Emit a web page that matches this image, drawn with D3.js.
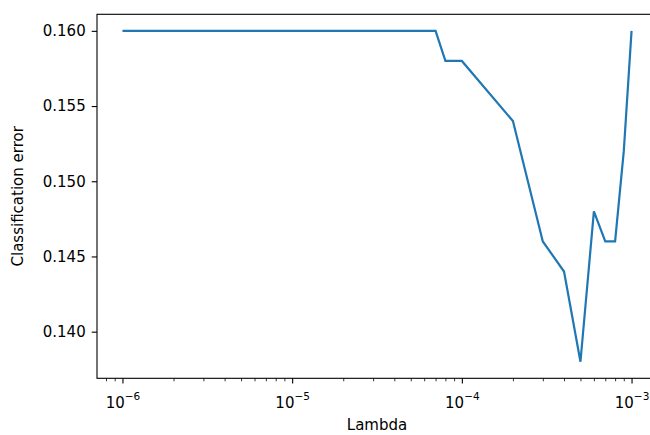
<!DOCTYPE html>
<html>
<head>
<meta charset="utf-8">
<script src="https://cdn.jsdelivr.net/npm/d3@7"></script>
<style>
  body { margin: 0; background: #fff; }
  text { font-family: "DejaVu Sans", sans-serif; fill: #000; }
</style>
</head>
<body>
<svg id="chart"></svg>
<script>
// regularisation strengths tried
const lambdas = [
  1e-6, 2e-6, 3e-6, 4e-6, 5e-6, 6e-6, 7e-6, 8e-6, 9e-6,
  1e-5, 2e-5, 3e-5, 4e-5, 5e-5, 6e-5, 7e-5, 8e-5, 9e-5,
  1e-4, 2e-4, 3e-4, 4e-4, 5e-4, 6e-4, 7e-4, 8e-4, 9e-4,
  1e-3
];
// classification error for each lambda
const errors = [
  0.160, 0.160, 0.160, 0.160, 0.160, 0.160, 0.160, 0.160, 0.160,
  0.160, 0.160, 0.160, 0.160, 0.160, 0.160, 0.160, 0.158, 0.158,
  0.158, 0.154, 0.146, 0.144, 0.138, 0.148, 0.146, 0.146, 0.152,
  0.160
];
const xTicks = [1e-6, 1e-5, 1e-4, 1e-3];
const xTickExps = ["\u22126", "\u22125", "\u22124", "\u22123"];
const yTicks = [0.140, 0.145, 0.150, 0.155, 0.160];

const width = 650, height = 435;
const margin = {top: 14.3, left: 97, w: 560, h: 364};

const svg = d3.select("#chart").attr("width", width).attr("height", height);
const g = svg.append("g").attr("transform", `translate(${margin.left},${margin.top})`);

// matplotlib-like 5% margins (in log space for x)
const lx = d3.extent(lambdas).map(Math.log10);
const padX = (lx[1] - lx[0]) * 0.05;
const x = d3.scaleLog()
  .domain([Math.pow(10, lx[0] - padX), Math.pow(10, lx[1] + padX)])
  .range([0, margin.w]);

const ey = d3.extent(errors);
const padY = (ey[1] - ey[0]) * 0.05;
const y = d3.scaleLinear()
  .domain([ey[0] - padY, ey[1] + padY])
  .range([margin.h, 0]);

// minor ticks on the log axis
const minor = [];
for (let e = -7; e <= -3; e++) {
  for (let m = 2; m <= 9; m++) {
    const v = m * Math.pow(10, e);
    if (v >= x.domain()[0] && v <= x.domain()[1]) minor.push(v);
  }
}

const xMinor = g.append("g")
  .attr("transform", `translate(0,${margin.h})`)
  .call(d3.axisBottom(x).tickValues(minor).tickSize(3).tickFormat(""));
xMinor.select(".domain").remove();
xMinor.selectAll("line").attr("stroke", "#000").attr("stroke-width", 0.8);

const xAxis = g.append("g")
  .attr("transform", `translate(0,${margin.h})`)
  .call(d3.axisBottom(x).tickValues(xTicks).tickSize(5.3).tickPadding(7).tickFormat(""));
xAxis.select(".domain").remove();
xAxis.selectAll("line").attr("stroke", "#000").attr("stroke-width", 1.1);
xAxis.selectAll(".tick").each(function(d, i) {
  const t = d3.select(this).append("text")
    .attr("y", 29.4)
    .attr("text-anchor", "middle")
    .style("font-size", "15px");
  t.append("tspan").text("10");
  t.append("tspan").attr("dy", -7.5).style("font-size", "10.5px").text(xTickExps[i]);
});

const yAxis = g.append("g")
  .call(d3.axisLeft(y).tickValues(yTicks).tickSize(5.3).tickPadding(6)
    .tickFormat(d3.format(".3f")));
yAxis.select(".domain").remove();
yAxis.selectAll("line").attr("stroke", "#000").attr("stroke-width", 1.1);
yAxis.selectAll("text")
  .style("font-size", "15px")
  .attr("fill", "#000");

// the curve
const line = d3.line()
  .x((d, i) => x(lambdas[i]))
  .y(d => y(d));

g.append("path")
  .datum(errors)
  .attr("fill", "none")
  .attr("stroke", "#1f77b4")
  .attr("stroke-width", 2.2)
  .attr("stroke-linejoin", "miter")
  .attr("d", line);

// frame
g.append("rect")
  .attr("width", margin.w).attr("height", margin.h)
  .attr("fill", "none")
  .attr("stroke", "#000")
  .attr("stroke-width", 1.1);

// axis labels
svg.append("text")
  .attr("x", margin.left + margin.w / 2)
  .attr("y", 430)
  .attr("text-anchor", "middle")
  .style("font-size", "15px")
  .text("Lambda");

svg.append("text")
  .attr("transform", `translate(23,${margin.top + margin.h / 2}) rotate(-90)`)
  .attr("text-anchor", "middle")
  .style("font-size", "15px")
  .text("Classification error");
</script>
</body>
</html>
